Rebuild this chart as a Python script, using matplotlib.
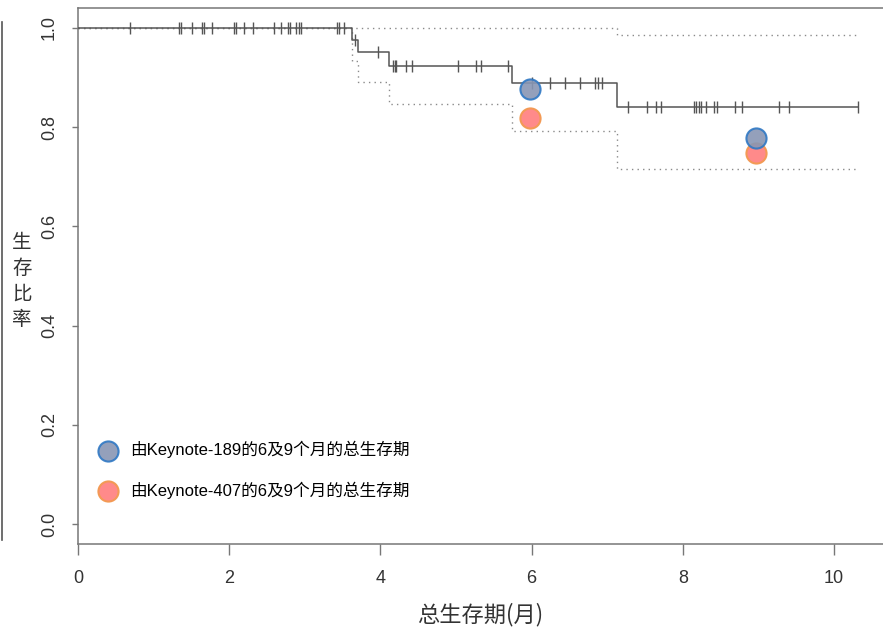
import numpy as np
import matplotlib
matplotlib.use("Agg")
import matplotlib.pyplot as plt
from matplotlib.lines import Line2D

# KM curve
step_times = [3.62, 3.71, 4.12, 5.74, 7.13]
surv = [1.0, 0.976, 0.951, 0.924, 0.889, 0.840]
upper = [1.0, 1.0, 1.0, 1.0, 1.0, 0.986]
lower = [1.0, 0.934, 0.891, 0.847, 0.793, 0.716]
t_end = 10.32

censor_times = [0.69, 1.33, 1.36, 1.51, 1.64, 1.67, 1.77, 2.06, 2.09, 2.20, 2.32,
                2.59, 2.69, 2.78, 2.81, 2.89, 2.92, 2.95, 3.42, 3.45, 3.52, 3.66,
                3.97, 4.17, 4.19, 4.21, 4.34, 4.42, 5.02, 5.26, 5.33, 5.69,
                6.01, 6.24, 6.44, 6.64, 6.84, 6.88, 6.93,
                7.27, 7.52, 7.65, 7.71, 8.15, 8.18, 8.21, 8.24, 8.31, 8.41, 8.45,
                8.69, 8.78, 9.27, 9.40, 10.32]

# reference points
months = [5.98, 8.97]
kn189 = [0.877, 0.778]
kn407 = [0.818, 0.748]
labels = ["由Keynote-189的6及9个月的总生存期", "由Keynote-407的6及9个月的总生存期"]

xticks = [0, 2, 4, 6, 8, 10]
yticks = [0.0, 0.2, 0.4, 0.6, 0.8, 1.0]

cjk = ['Liberation Sans', 'Noto Sans CJK SC', 'DejaVu Sans']
plt.rcParams['font.family'] = cjk

fig = plt.figure(figsize=(8.83, 6.29), dpi=100)
W, H = 883, 629
ax = fig.add_axes([78 / W, (H - 544) / H, (900 - 78) / W, 536 / H])
ax.set_xlim(0, (900 - 78) / 75.6)
ax.set_ylim(-0.04, 1.04)

xs = [0] + step_times + [t_end]
ax.plot(xs, surv + [surv[-1]], drawstyle='steps-post', color='#555555', lw=1.1, zorder=3)
ax.plot(xs, upper + [upper[-1]], drawstyle='steps-post', color='#8a8a8a', lw=1.0,
        ls=(0, (1, 3)), zorder=2)
ax.plot(xs, lower + [lower[-1]], drawstyle='steps-post', color='#8a8a8a', lw=1.0,
        ls=(0, (1, 3)), zorder=2)

idx = np.searchsorted(step_times, censor_times, side='right')
ax.plot(censor_times, np.array(surv)[idx], ls='none', marker='|', ms=8.5, mew=1.0,
        color='#555555', zorder=3)

p407 = ax.scatter(months, kn407, s=210, color='#ff8a8a', edgecolors='#f39a55',
                  linewidths=1.5, zorder=4)
p189 = ax.scatter(months, kn189, s=210, color='#8896b4', edgecolors='#2f78c4',
                  linewidths=1.5, alpha=0.9, zorder=5)

ax.legend([p189, p407], labels, loc='upper left', bbox_to_anchor=(0.0162, 0.205),
          frameon=False, fontsize=12, handletextpad=0.7, labelspacing=1.4,
          handlelength=1.2, borderaxespad=0, scatterpoints=1)

for s in ['left', 'top', 'bottom', 'right']:
    ax.spines[s].set_color('#777777')
    ax.spines[s].set_linewidth(1.1)

ax.set_xticks(xticks)
ax.set_xticklabels([str(v) for v in xticks], fontsize=13, color='#333333')
ax.set_yticks(yticks)
ax.set_yticklabels(["%.1f" % v for v in yticks], fontsize=13, color='#333333',
                   rotation=90, va='center')
ax.tick_params(axis='x', length=8, width=1.0, color='#777777', pad=11)
ax.tick_params(axis='y', length=4.5, width=1.0, color='#777777', pad=10)

fig.text(480 / W, 1 - 615 / H, "总生存期(月)", fontsize=16, ha='center', va='center',
         color='#333333', family=['Noto Sans CJK SC'])
fig.text(22 / W, 1 - 281 / H, "生\n存\n比\n率", fontsize=14, ha='center', va='center',
         color='#333333', linespacing=1.3, family=['Noto Sans CJK SC'])

# thin frame line on the very left edge
fig.add_artist(Line2D([1.5 / W, 1.5 / W], [1 - 22 / H, 1 - 540 / H], color='#555555', lw=1.2))

fig.savefig("out.png", dpi=100)
